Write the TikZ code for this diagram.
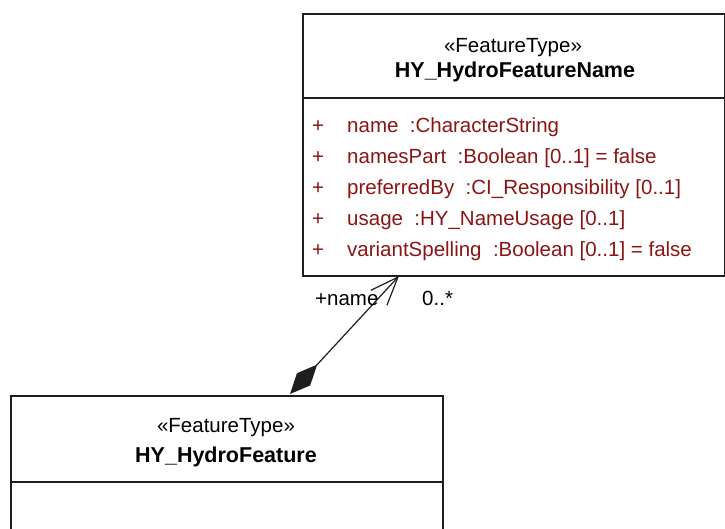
\documentclass[tikz,border=0pt]{standalone}
\usepackage{fontspec}
\setmainfont{Liberation Sans}
\usetikzlibrary{arrows.meta,positioning}
\definecolor{attrred}{RGB}{140,20,20}
\definecolor{umlline}{RGB}{30,30,30}
\begin{document}
\begin{tikzpicture}[x=1pt, y=-1pt,
  classbox/.style = {draw=umlline, line width=1.6pt, rectangle, anchor=north west, inner sep=0pt},
  stereo/.style = {anchor=base, inner sep=0pt, font=\fontsize{20.5}{24}\selectfont},
  title/.style = {anchor=base, inner sep=0pt, font=\fontsize{21.5}{26}\selectfont\bfseries},
  attr/.style = {anchor=base west, inner sep=0pt, text=attrred, font=\fontsize{20.5}{24}\selectfont},
  role/.style = {anchor=base west, inner sep=0pt, font=\fontsize{20.5}{24}\selectfont}]
\useasboundingbox (0,0) rectangle (725,528);
\clip (0,0) rectangle (725,528);
% HY_HydroFeatureName
\node[classbox, minimum width=422pt, minimum height=262pt] (nameBox) at (302,13) {};
\draw[umlline, line width=1.6pt] (nameBox.west |- 0,98) -- (nameBox.east |- 0,98);
\node[stereo] (nameStereo) at (513,52) {«FeatureType»};
\node[title] (nameTitle) at (515,77) {HY\_HydroFeatureName};
\foreach \txt [count=\i] in {{name~ :CharacterString},
    {namesPart~ :Boolean [0..1] = false},
    {preferredBy~ :CI\_Responsibility [0..1]},
    {usage~ :HY\_NameUsage [0..1]},
    {variantSpelling~ :Boolean [0..1] = false}} {
  \node[attr] (plus\i) at (312,{132+31*(\i-1)}) {+};
  \node[attr] (attr\i) at (347,{132+31*(\i-1)}) {\txt};
}
% HY_HydroFeature
\node[classbox, minimum width=432pt, minimum height=160pt] (featBox) at (10,395) {};
\draw[umlline, line width=1.6pt] (featBox.west |- 0,482) -- (featBox.east |- 0,482);
\node[stereo] (featStereo) at (226,432) {«FeatureType»};
\node[title] (featTitle) at (226,462) {HY\_HydroFeature};
% composition
\coordinate (wholeEnd) at (290,394);
\coordinate (partEnd) at (399,276);
\draw[umlline, line width=1.2pt, {Diamond[length=40pt,width=18pt]}-{Straight Barb[length=28pt,width=22pt]}] (wholeEnd) -- (partEnd);
\node[role] (roleName) at (315,305) {+name};
\node[role] (roleMult) at (422,305) {0..*};
\end{tikzpicture}
\end{document}
